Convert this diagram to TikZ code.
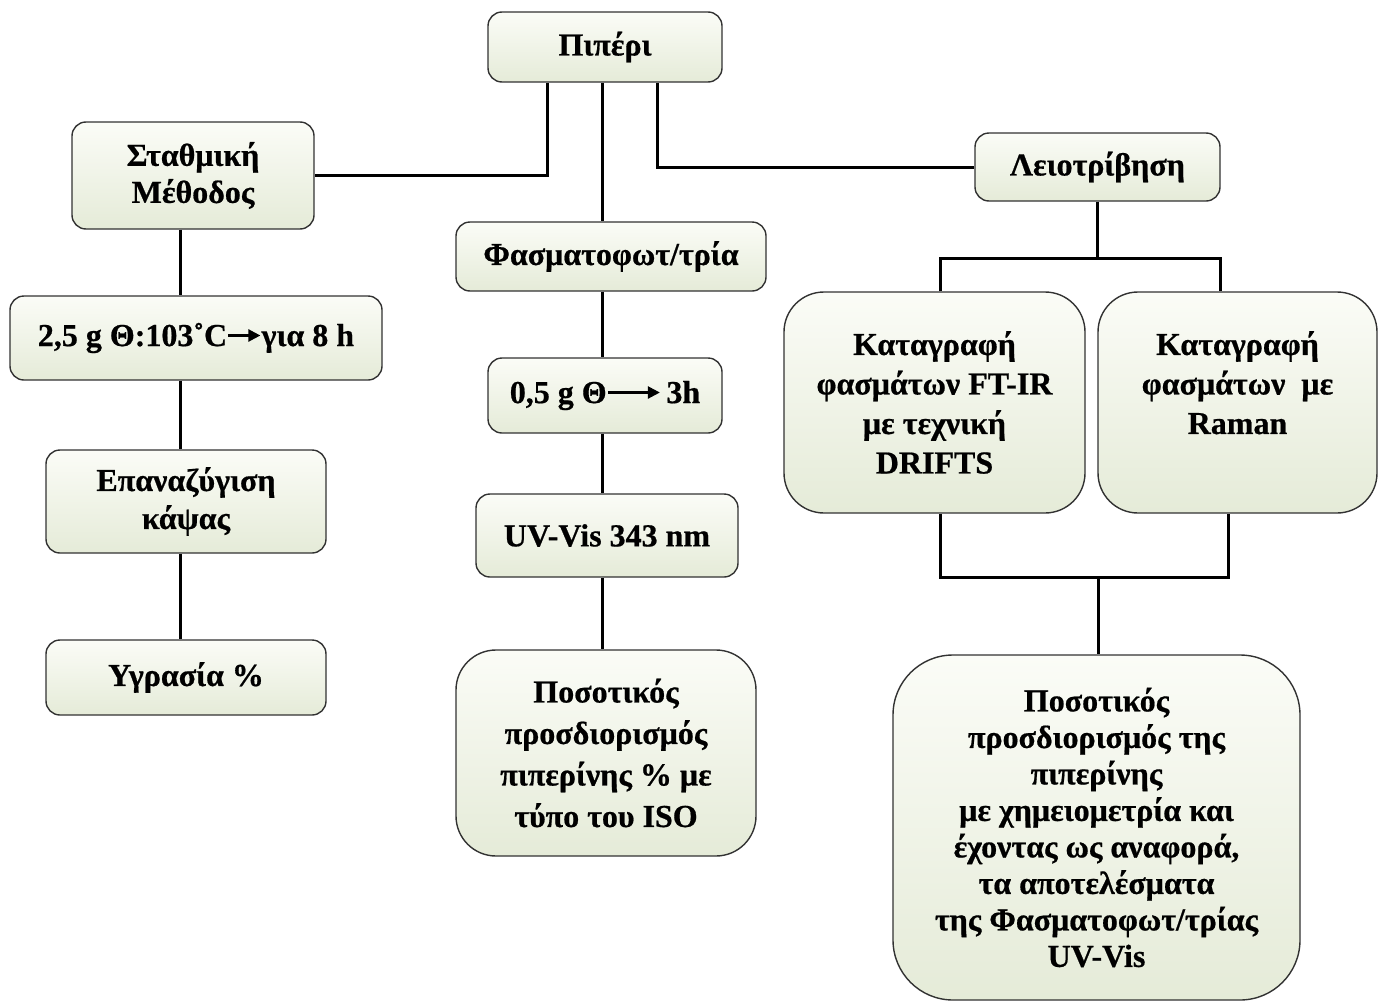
\documentclass[tikz,border=0pt]{standalone}
\usepackage{fontspec}
\setmainfont{Liberation Serif}[BoldFeatures={FakeBold=0.6}]
\usetikzlibrary{arrows.meta,calc}
\definecolor{boxtop}{RGB}{251,252,247}
\definecolor{boxbot}{RGB}{229,235,216}
\definecolor{boxline}{RGB}{50,50,50}
\newcommand{\tarrow}[1]{\tikz[baseline=-0.33em]\draw[line width=2.4pt,-{Triangle[length=12pt,width=12pt]}](0pt,0pt)--(#1,0pt);}
\tikzset{
  fbox/.style={draw=boxline,line width=1.4pt,top color=boxtop,bottom color=boxbot,
    rounded corners=14pt,align=center,inner sep=0pt,
    font=\bfseries\fontsize{32}{36.5}\selectfont},
  bigbox/.style={fbox,rounded corners=40pt},
  ls/.style={font=\bfseries\fontsize{32}{#1}\selectfont},
  conn/.style={line width=3pt,black}
}
\begin{document}
\begin{tikzpicture}[x=1pt,y=-1pt]
\useasboundingbox (0,0) rectangle (1381,1001);
% nodes
\node[fbox,minimum width=234pt,minimum height=70pt] (pip) at (605,47) {Πιπέρι};
\node[fbox,ls=37,minimum width=242pt,minimum height=107pt] (stat) at (193,175.5) {Σταθμική\\Μέθοδος};
\node[fbox,minimum width=245pt,minimum height=68pt] (lei) at (1097.5,167) {Λειοτρίβηση};
\node[fbox,minimum width=310pt,minimum height=69pt] (fasm) at (611,256.5) {Φασματοφωτ/τρία};
\node[fbox,minimum width=372pt,minimum height=84pt] (dry) at (196,338) {2,5 g Θ:103˚C\tarrow{32pt}για 8 h};
\node[fbox,minimum width=234pt,minimum height=75pt] (uvs) at (605,395.5) {0,5 g Θ\tarrow{52pt}\,3h};
\node[bigbox,ls=39.5,minimum width=301pt,minimum height=221pt] (ftir) at (934.5,402.5) {Καταγραφή\\φασμάτων FT-IR\\με τεχνική\\DRIFTS};
\node[bigbox,ls=39.5,minimum width=279pt,minimum height=221pt] (raman) at (1237.5,402.5) {Καταγραφή\\φασμάτων\ \ με\\Raman\\\phantom{DRIFTS}};
\node[fbox,ls=38,minimum width=280pt,minimum height=103pt] (rew) at (186,501.5) {Επαναζύγιση\\κάψας};
\node[fbox,minimum width=262pt,minimum height=83pt] (uv) at (607,535.5) {UV-Vis 343 nm};
\node[fbox,minimum width=280pt,minimum height=75pt] (hum) at (186,677.5) {Υγρασία \%};
\node[bigbox,ls=41.5,minimum width=300pt,minimum height=206pt] (iso) at (606,753) {Ποσοτικός\\προσδιορισμός\\πιπερίνης \% με\\τύπο του ISO};
\node[bigbox,rounded corners=60pt,minimum width=407pt,minimum height=345pt] (res) at (1096.5,827.5) {Ποσοτικός\\προσδιορισμός της\\πιπερίνης\\με χημειομετρία και\\έχοντας ως αναφορά,\\τα αποτελέσματα\\της Φασματοφωτ/τρίας\\UV-Vis};
% helper coordinates
\coordinate (xl) at (180,0);
\coordinate (xm) at (602,0);
\coordinate (jL) at (940,258);
\coordinate (jR) at (1220,258);
\coordinate (kL) at (940,577);
\coordinate (kR) at (1228,577);
\coordinate (kM) at (1098,577);
% connectors
\draw[conn] ([xshift=-58pt]pip.south) |- (stat.east);
\draw[conn] (pip.south -| xm) -- (fasm.north -| xm);
\draw[conn] ([xshift=52pt]pip.south) |- (lei.west);
\draw[conn] (lei.south) -- (lei.south |- jL);
\draw[conn] (jL |- ftir.north) -- (jL) -- (jR) -- (jR |- raman.north);
\draw[conn] (stat.south -| xl) -- (dry.north -| xl);
\draw[conn] (dry.south -| xl) -- (rew.north -| xl);
\draw[conn] (rew.south -| xl) -- (hum.north -| xl);
\draw[conn] (fasm.south -| xm) -- (uvs.north -| xm);
\draw[conn] (uvs.south -| xm) -- (uv.north -| xm);
\draw[conn] (uv.south -| xm) -- (iso.north -| xm);
\draw[conn] (kL |- ftir.south) -- (kL) -- (kR) -- (kR |- raman.south);
\draw[conn] (kM) -- (res.north -| kM);
\end{tikzpicture}
\end{document}
